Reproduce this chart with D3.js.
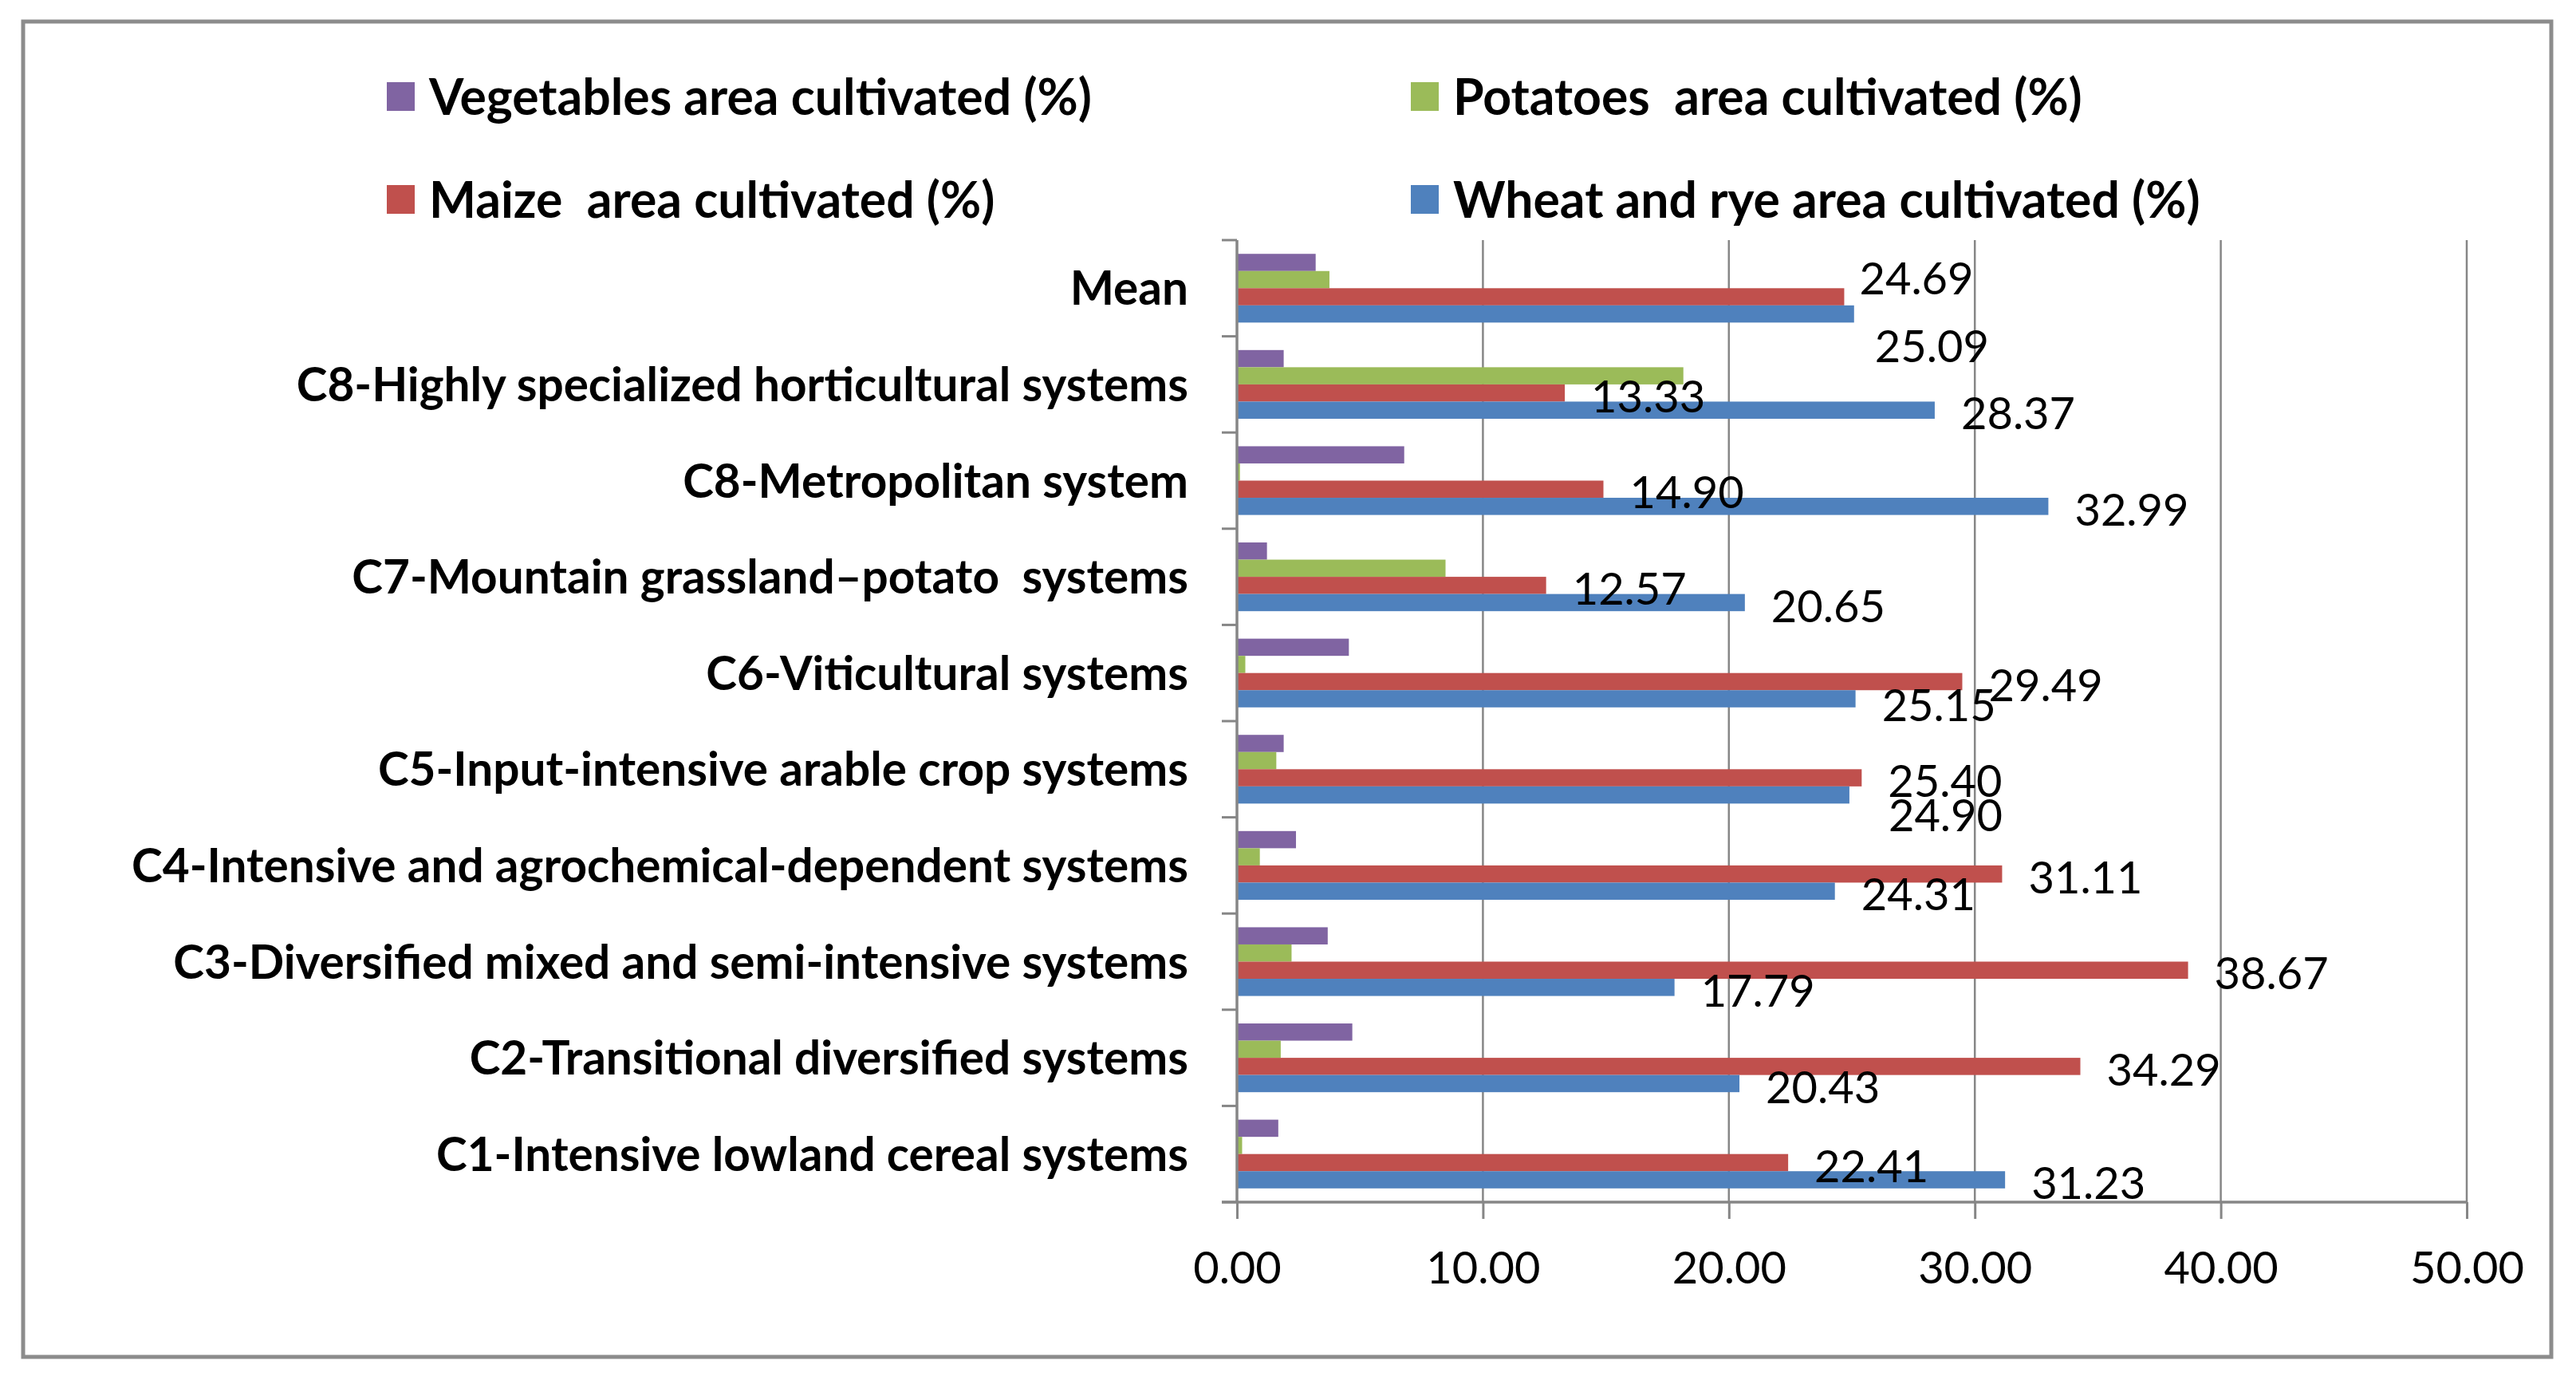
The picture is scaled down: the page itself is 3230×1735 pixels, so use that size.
<!DOCTYPE html>
<html>
<head>
<meta charset="utf-8">
<script src="https://d3js.org/d3.v7.min.js"></script>
<style>
  body { margin: 0; background: #fff; }
</style>
</head>
<body>
<div id="chart"></div>
<script>
// Farming system types, top to bottom as drawn
const categories = [
    'Mean',
    'C8-Highly specialized horticultural systems',
    'C8-Metropolitan system',
    'C7-Mountain grassland\u2013potato  systems',
    'C6-Viticultural systems',
    'C5-Input-intensive arable crop systems',
    'C4-Intensive and agrochemical-dependent systems',
    'C3-Diversified mixed and semi-intensive systems',
    'C2-Transitional diversified systems',
    'C1-Intensive lowland cereal systems'
];

// Share of area cultivated (%)
const wheat      = [25.09, 28.37, 32.99, 20.65, 25.15, 24.90, 24.31, 17.79, 20.43, 31.23];
const maize      = [24.69, 13.33, 14.90, 12.57, 29.49, 25.40, 31.11, 38.67, 34.29, 22.41];
const potatoes   = [3.76, 18.15, 0.12, 8.48, 0.34, 1.60, 0.93, 2.22, 1.78, 0.21];
const vegetables = [3.20, 1.90, 6.80, 1.22, 4.55, 1.90, 2.40, 3.69, 4.69, 1.68];

const seriesNames = [
    'Vegetables area cultivated (%)',
    'Potatoes  area cultivated (%)',
    'Maize  area cultivated (%)',
    'Wheat and rye area cultivated (%)'
];
const xTicks = [0, 10, 20, 30, 40, 50];

// series in the order the bars stack inside each group (top to bottom)
var series = [
    {key: 'veg', name: seriesNames[0], values: vegetables, color: '#8064A2', labelled: false},
    {key: 'pot', name: seriesNames[1], values: potatoes, color: '#9BBB59', labelled: false},
    {key: 'mai', name: seriesNames[2], values: maize, color: '#C0504D', labelled: true},
    {key: 'whe', name: seriesNames[3], values: wheat, color: '#4F81BD', labelled: true}
];

// a few data labels were dragged by hand in the original: [dx, dy]
var labelNudge = {
    mai: {0: [-14, -27]},
    whe: {0: [-7, 36], 4: [0, 4], 5: [16, 21]}
};

var width = 3230,
    height = 1735,
    plotLeft = 1551,
    plotRight = 3093,
    plotTop = 301,
    plotBottom = 1507,
    gridColor = '#868686';

var svg = d3.select('#chart')
    .append('svg')
    .attr('width', width)
    .attr('height', height)
    .style('background', '#fff');

// outer chart border
svg.append('rect')
    .attr('x', 29)
    .attr('y', 27)
    .attr('width', 3170)
    .attr('height', 1674)
    .attr('fill', 'none')
    .attr('stroke', '#8c8c8c')
    .attr('stroke-width', 5);

var x = d3.scaleLinear()
    .domain([0, 50])
    .range([plotLeft, plotRight]);

var y = d3.scaleBand()
    .domain(categories)
    .range([plotTop, plotBottom]);

var ySeries = d3.scaleBand()
    .domain(series.map(function(s) { return s.key; }))
    .range([0, y.bandwidth()])
    .paddingInner(0)
    .paddingOuter(0.8);

// vertical gridlines
svg.append('g')
    .selectAll('line')
    .data(xTicks.slice(1))
    .join('line')
    .attr('x1', function(d) { return x(d); })
    .attr('x2', function(d) { return x(d); })
    .attr('y1', plotTop)
    .attr('y2', plotBottom)
    .attr('stroke', gridColor)
    .attr('stroke-width', 2.5);

// bars
for (let s = 0; s < series.length; s++) {
    let ser = series[s];
    svg.append('g')
        .selectAll('rect')
        .data(ser.values)
        .join('rect')
        .attr('x', x(0))
        .attr('y', function(d, i) { return y(categories[i]) + ySeries(ser.key); })
        .attr('width', function(d) { return x(d) - x(0); })
        .attr('height', ySeries.bandwidth())
        .attr('fill', ser.color);
}

// bottom value axis
var xAxis = d3.axisBottom(x)
    .tickValues(xTicks)
    .tickFormat(d3.format('.2f'))
    .tickSize(21)
    .tickPadding(41);

var gx = svg.append('g')
    .attr('transform', 'translate(0,' + plotBottom + ')')
    .call(xAxis);
gx.select('.domain').remove();
gx.selectAll('line').attr('stroke', gridColor).attr('stroke-width', 3);
gx.selectAll('text')
    .style('font', '56px Lato, sans-serif')
    .attr('fill', '#000');
gx.append('line')
    .attr('x1', x(0) - 19)
    .attr('x2', x(50))
    .attr('stroke', gridColor)
    .attr('stroke-width', 3.5);

// left category axis: ticks sit on the band edges
var edges = categories.map(function(c) { return y(c); }).concat([plotBottom]);
var gy = svg.append('g');
gy.selectAll('line.tick')
    .data(edges)
    .join('line')
    .attr('class', 'tick')
    .attr('x1', x(0) - 19)
    .attr('x2', x(0))
    .attr('y1', function(d) { return d; })
    .attr('y2', function(d) { return d; })
    .attr('stroke', gridColor)
    .attr('stroke-width', 3);
gy.append('line')
    .attr('x1', x(0))
    .attr('x2', x(0))
    .attr('y1', plotTop)
    .attr('y2', plotBottom)
    .attr('stroke', gridColor)
    .attr('stroke-width', 3.5);

gy.selectAll('text')
    .data(categories)
    .join('text')
    .attr('x', x(0) - 61)
    .attr('y', function(d) { return y(d) + y.bandwidth() / 2; })
    .attr('dy', '0.36em')
    .attr('text-anchor', 'end')
    .style('white-space', 'pre')
    .style('font', 'bold 58.5px Lato, sans-serif')
    .attr('fill', '#000')
    .text(function(d) { return d; });

// data labels for maize and wheat
series.filter(function(s) { return s.labelled; }).forEach(function(ser) {
    svg.append('g')
        .selectAll('text')
        .data(ser.values)
        .join('text')
        .attr('x', function(d, i) {
            let n = (labelNudge[ser.key] || {})[i] || [0, 0];
            return x(d) + 33 + n[0];
        })
        .attr('y', function(d, i) {
            let n = (labelNudge[ser.key] || {})[i] || [0, 0];
            return y(categories[i]) + ySeries(ser.key) + ySeries.bandwidth() / 2 + 4 + n[1];
        })
        .attr('dy', '0.36em')
        .style('font', '56px Lato, sans-serif')
        .attr('fill', '#000')
        .text(function(d) { return d3.format('.2f')(d); });
});

// legend, two rows of two
var legendCols = [485, 1769],
    legendRows = [121, 250];

var legend = svg.append('g')
    .selectAll('g')
    .data(series)
    .join('g')
    .attr('transform', function(d, i) {
        return 'translate(' + legendCols[i % 2] + ',' + legendRows[Math.floor(i / 2)] + ')';
    });

legend.append('rect')
    .attr('x', 0)
    .attr('y', -18)
    .attr('width', 35)
    .attr('height', 36)
    .attr('fill', function(d) { return d.color; });

legend.append('text')
    .attr('x', 53)
    .attr('y', 0)
    .attr('dy', '0.36em')
    .style('white-space', 'pre')
    .style('font', 'bold 62.5px Lato, sans-serif')
    .attr('fill', '#000')
    .text(function(d) { return d.name; });
</script>
</body>
</html>
